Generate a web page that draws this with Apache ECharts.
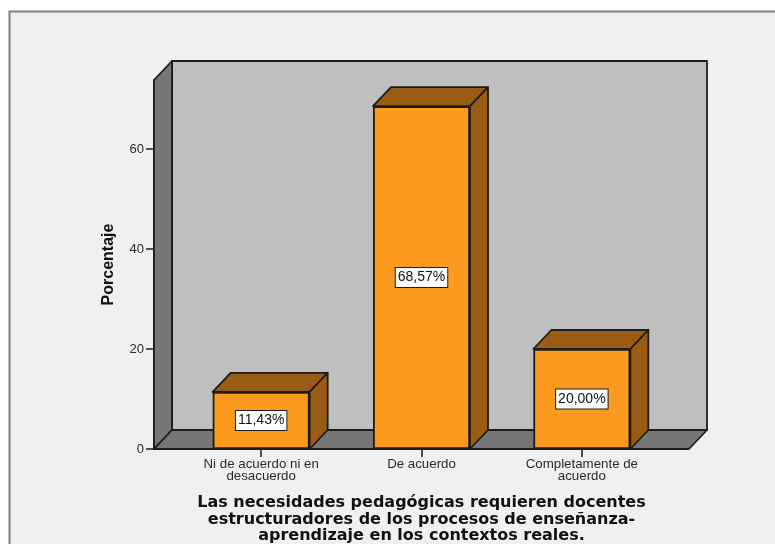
<!DOCTYPE html>
<html><head><meta charset="utf-8">
<style>html,body{margin:0;padding:0;background:#fff}#c{width:775px;height:544px}</style>
<script src="https://cdn.jsdelivr.net/npm/echarts@6/dist/echarts.min.js"></script>
</head><body><div id="c"></div>
<script>
const categories = ['Ni de acuerdo ni en\ndesacuerdo', 'De acuerdo', 'Completamente de\nacuerdo'];
const values = [11.43, 68.57, 20.00];
const yTicks = [0, 20, 40, 60];
const yMax = 73.8;
const xTitle = 'Las necesidades pedagógicas requieren docentes\nestructuradores de los procesos de enseñanza-\naprendizaje en los contextos reales.';
const yTitle = 'Porcentaje';

const DX = 18, DY = 19, EXT = 27, BAR_W = 97;
const LINE = '#1c1c1c';
const lineStyle = (fill) => ({ fill, stroke: LINE, lineWidth: 1.8, lineJoin: 'round' });
const poly = (points, fill) => ({ type: 'polygon', shape: { points }, style: lineStyle(fill) });

function renderWalls(params, api) {
  const cs = params.coordSys;
  const x0 = cs.x - EXT, x1 = cs.x + cs.width + EXT;
  const yB = api.coord([0, 0])[1], yT = api.coord([0, yMax])[1];
  return { type: 'group', children: [
    poly([[x0 + DX, yT - DY], [x1 + DX, yT - DY], [x1 + DX, yB - DY], [x0 + DX, yB - DY]], '#bfbfbf'),
    poly([[x0, yT], [x0 + DX, yT - DY], [x0 + DX, yB - DY], [x0, yB]], '#767676'),
    poly([[x0, yB], [x1, yB], [x1 + DX, yB - DY], [x0 + DX, yB - DY]], '#767676')
  ]};
}
function renderBarSides(params, api) {
  const p = api.coord([api.value(0), api.value(1)]);
  const b = api.coord([api.value(0), 0]);
  const l = p[0] - BAR_W / 2, r = p[0] + BAR_W / 2, t = p[1];
  return { type: 'group', children: [
    poly([[l, t], [r, t], [r + DX, t - DY], [l + DX, t - DY]], '#9a5c12'),
    poly([[r, t], [r + DX, t - DY], [r + DX, b[1] - DY], [r, b[1]]], '#9a5c12')
  ]};
}

const chart = echarts.init(document.getElementById('c'), null, { renderer: 'canvas' });
chart.setOption({
  animation: false,
  backgroundColor: '#ffffff',
  graphic: [{ type: 'rect', z: -10, shape: { x: 9.5, y: 11.5, width: 800, height: 600 },
    style: { fill: '#f0f0f0', stroke: '#7f7f7f', lineWidth: 2 } }],
  grid: { left: 181, width: 481, top: 80, height: 369, outerBoundsMode: 'none' },
  xAxis: {
    type: 'category', data: categories,
    axisLine: { show: false },
    axisTick: { show: true, alignWithLabel: true, length: 8, lineStyle: { color: LINE, width: 1.5 } },
    axisLabel: { interval: 0, margin: 10, color: '#2a2a2a', fontFamily: 'Liberation Sans', fontSize: 13.3, lineHeight: 11.5 },
    name: xTitle, nameLocation: 'middle', nameGap: 46,
    nameTextStyle: { fontFamily: 'DejaVu Sans', fontWeight: 'bold', fontSize: 16, lineHeight: 16.5, color: '#111' }
  },
  yAxis: {
    type: 'value', min: 0, max: yMax, offset: EXT,
    splitLine: { show: false },
    axisLine: { show: true, lineStyle: { color: LINE, width: 1.8 } },
    axisTick: { show: true, length: 8, customValues: yTicks, lineStyle: { color: LINE, width: 1.5 } },
    axisLabel: { customValues: yTicks, margin: 10, color: '#2a2a2a', fontFamily: 'Liberation Sans', fontSize: 13 },
    name: yTitle, nameLocation: 'middle', nameGap: 37,
    nameTextStyle: { fontFamily: 'Liberation Sans', fontWeight: 'bold', fontSize: 16, color: '#111' }
  },
  series: [
    { type: 'custom', z: 1, clip: false, silent: true, renderItem: renderWalls, data: [[0, 0]] },
    { type: 'custom', z: 2, clip: false, silent: true, renderItem: renderBarSides,
      encode: { x: 0, y: 1 }, data: values.map((v, i) => [i, v]) },
    { type: 'bar', z: 3, data: values, barWidth: BAR_W, clip: false,
      itemStyle: { color: '#fc9a1f', borderColor: LINE, borderWidth: 1.8 },
      label: { show: true, position: 'inside', color: '#111',
        fontFamily: 'Liberation Sans', fontSize: 14,
        backgroundColor: '#fff', borderColor: LINE, borderWidth: 1, padding: [3, 2, 2, 2],
        formatter: (p) => p.value.toFixed(2).replace('.', ',') + '%' } }
  ]
});
</script></body></html>
